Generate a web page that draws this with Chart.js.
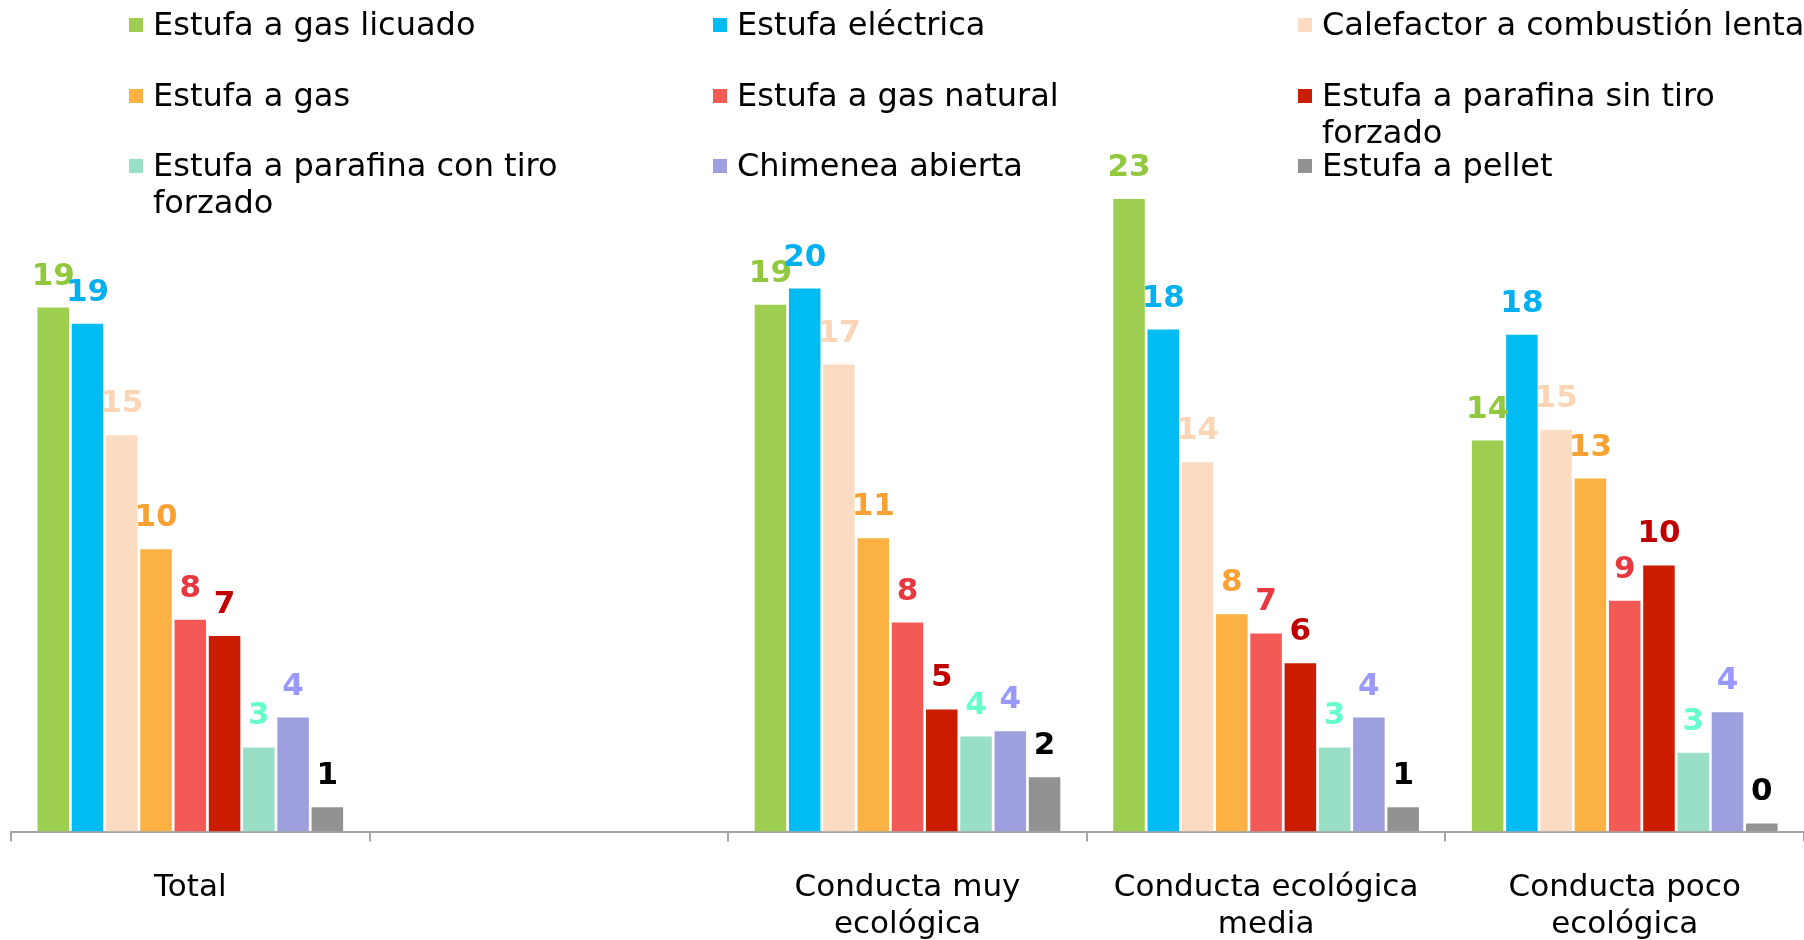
<!DOCTYPE html>
<html><head><meta charset="utf-8">
<script src="https://cdn.jsdelivr.net/npm/chart.js@4.4.1/dist/chart.umd.min.js"></script>
<style>
html,body{margin:0;padding:0;background:#fff;overflow:hidden;width:1804px;height:940px;}
#wrap{position:relative;width:1804px;height:940px;overflow:hidden;}
#c{position:absolute;left:0;top:0;}
#legend{position:absolute;left:0;top:0;width:1804px;height:230px;font-family:"DejaVu Sans";font-size:32px;line-height:37px;color:#000;}
.li{position:absolute;width:500px;white-space:normal;}
.sw{position:absolute;width:14px;height:14px;left:-24px;top:12px;}
</style></head><body>
<div id="wrap"><canvas id="c" width="1804" height="972"></canvas><div id="legend"></div></div>
<script>
// Categories (x axis)
const categories = ['Total', '', ['Conducta muy', 'ecológica'], ['Conducta ecológica', 'media'], ['Conducta poco', 'ecológica']];

// Series names
const seriesNames = [
  'Estufa a gas licuado', 'Estufa eléctrica', 'Calefactor a combustión lenta',
  'Estufa a gas', 'Estufa a gas natural', 'Estufa a parafina sin tiro forzado',
  'Estufa a parafina con tiro forzado', 'Chimenea abierta', 'Estufa a pellet'
];

// Series values (per category: Total, blank, muy, media, poco)
const gasLicuado      = [19.3, null, 19.4, 23.3, 14.4];
const electrica       = [18.7, null, 20.0, 18.49, 18.3];
const combustionLenta = [14.6, null, 17.2, 13.6, 14.8];
const gas             = [10.4, null, 10.8,  8.0, 13.0];
const gasNatural      = [ 7.8, null,  7.7,  7.3,  8.5];
const parafinaSinTiro = [ 7.2, null,  4.5,  6.2,  9.8];
const parafinaConTiro = [ 3.1, null,  3.5,  3.1,  2.9];
const chimenea        = [ 4.2, null,  3.7,  4.2,  4.4];
const pellet          = [ 0.9, null,  2.0,  0.9,  0.3];

const seriesValues = [gasLicuado, electrica, combustionLenta, gas, gasNatural, parafinaSinTiro, parafinaConTiro, chimenea, pellet];

// Styles
const barColors   = ['#9ECE4F', '#00BCF2', '#FBDCC2', '#FBB242', '#F45A55', '#CC1C00', '#98DFC5', '#9E9FDF', '#929292'];
const labelColors = ['#92C83E', '#00B0F0', '#FBD5B5', '#F9A233', '#E8383F', '#C00000', '#66FFCC', '#9999FF', '#000000'];

const datasets = seriesNames.map((name, i) => ({
  label: name,
  data: seriesValues[i],
  backgroundColor: barColors[i],
  borderWidth: 0,
  barPercentage: 0.92,
  categoryPercentage: 0.86
}));

const valueLabels = {
  id: 'valueLabels',
  afterDatasetsDraw(chart) {
    const ctx = chart.ctx;
    ctx.save();
    ctx.font = 'bold 31px "DejaVu Sans"';
    ctx.textAlign = 'center';
    ctx.textBaseline = 'alphabetic';
    chart.data.datasets.forEach((ds, i) => {
      const meta = chart.getDatasetMeta(i);
      meta.data.forEach((el, j) => {
        const v = ds.data[j];
        if (v === null || v === undefined) return;
        ctx.fillStyle = labelColors[i];
        ctx.fillText(String(Math.round(v)), el.x, el.y - 23);
      });
    });
    ctx.restore();
  }
};

new Chart(document.getElementById('c'), {
  type: 'bar',
  data: { labels: categories, datasets },
  options: {
    responsive: false,
    animation: false,
    layout: { padding: { left: 11, right: 0, top: 17, bottom: 0 } },
    plugins: { legend: { display: false }, tooltip: { enabled: false } },
    scales: {
      x: {
        grid: { display: true, offset: true, drawOnChartArea: false, drawTicks: true, tickLength: 10, color: '#A6A6A6', lineWidth: 2 },
        border: { display: true, color: '#A6A6A6', width: 2 },
        ticks: { font: { family: 'DejaVu Sans', size: 31, lineHeight: 1.2 }, color: '#000', padding: 28, maxRotation: 0, minRotation: 0, autoSkip: false }
      },
      y: { display: false, min: 0, max: 30 }
    }
  },
  plugins: [valueLabels]
});

// Legend (HTML, 3 columns, row-major)
const legendCols = [153, 737, 1322];
const legendRows = [6, 77, 147];
const legendEl = document.getElementById('legend');
seriesNames.forEach((name, i) => {
  const d = document.createElement('div');
  d.className = 'li';
  d.style.left = legendCols[i % 3] + 'px';
  d.style.top = legendRows[Math.floor(i / 3)] + 'px';
  const sw = document.createElement('span');
  sw.className = 'sw';
  sw.style.background = barColors[i];
  d.appendChild(sw);
  d.appendChild(document.createTextNode(name));
  legendEl.appendChild(d);
});
</script>
</body></html>
